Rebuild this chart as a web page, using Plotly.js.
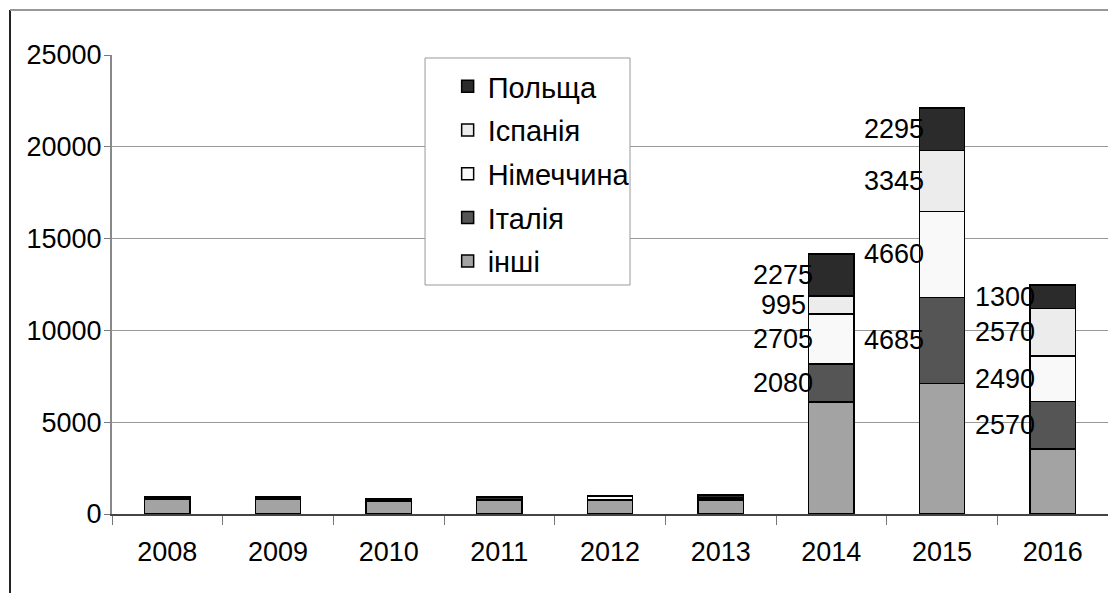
<!DOCTYPE html>
<html>
<head>
<meta charset="utf-8">
<script src="https://cdn.plot.ly/plotly-3.0.1.min.js"></script>
<style>html,body{margin:0;padding:0;background:#fff;overflow:hidden}</style>
</head>
<body>
<div id="chart" style="width:1108px;height:593px"></div>
<script>
const years = ['2008','2009','2010','2011','2012','2013','2014','2015','2016'];
const inshi   = [780, 780, 680, 770, 760, 760, 6100, 7120, 3550];
const italy   = [80, 80, 50, 0, 40, 60, 2080, 4685, 2570];
const germany = [0, 0, 0, 0, 180, 40, 2705, 4660, 2490];
const spain   = [0, 0, 0, 0, 0, 40, 995, 3345, 2570];
const poland  = [80, 80, 80, 150, 40, 130, 2275, 2295, 1300];
const labelYears = ['2014','2015','2016'];

const seriesNames = ['інші','Італія','Німеччина','Іспанія','Польща'];
const seriesData = [inshi, italy, germany, spain, poland];
const seriesColors = ['#a3a3a3','#555555','#f9f9f9','#ececec','#2b2b2b'];

const FONT = 'Liberation Sans, Arial, sans-serif';
const FS = 27;

const traces = seriesNames.map((n, i) => ({
  type: 'bar',
  name: n,
  x: years,
  y: seriesData[i],
  legendgroup: 'g' + i,
  legendrank: 100 - i,
  marker: {color: seriesColors[i], line: {color: '#000', width: 1.5}},
  hoverinfo: 'none'
}));

const annotations = [];
labelYears.forEach(yr => {
  const idx = years.indexOf(yr);
  let base = 0;
  seriesData.forEach((arr, si) => {
    const v = arr[idx];
    if (si > 0) {
      annotations.push({
        x: idx, y: base + v / 2, xref: 'x', yref: 'y',
        text: String(v), showarrow: false,
        xanchor: 'center', yanchor: 'middle', xshift: -48,
        font: {family: FONT, size: FS, color: '#000'}
      });
    }
    base += v;
  });
});

const layout = {
  width: 1108, height: 593,
  margin: {l: 112, r: 0, t: 55, b: 79},
  paper_bgcolor: '#fff', plot_bgcolor: '#fff',
  barmode: 'stack', bargap: 0.59,
  showlegend: true,
  legend: {
    x: 0.337, y: 0.987, xanchor: 'left', yanchor: 'top',
    traceorder: 'grouped', tracegroupgap: 3,
    bgcolor: 'rgba(0,0,0,0)', borderwidth: 0,
    font: {family: FONT, size: 29, color: '#000'},
    itemwidth: 30
  },
  xaxis: {
    type: 'category', range: [-0.5, 8.5],
    showgrid: false, showline: true, linecolor: '#444', linewidth: 1.5,
    ticks: 'outside', tickson: 'boundaries', ticklen: 9, tickcolor: '#777', tickwidth: 1,
    ticklabelstandoff: 13,
    tickfont: {family: FONT, size: FS, color: '#000'}
  },
  yaxis: {
    range: [0, 25000], dtick: 5000, tickformat: 'd',
    showgrid: true, gridcolor: '#999', gridwidth: 1,
    zeroline: false,
    showline: true, linecolor: '#888', linewidth: 2,
    ticks: 'outside', ticklen: 6, tickcolor: '#777',
    ticklabelstandoff: -3,
    tickfont: {family: FONT, size: FS, color: '#000'}
  },
  shapes: [
    {type: 'line', xref: 'paper', yref: 'paper', x0: -0.1024, x1: -0.1024, y0: 1.098, y1: -0.2, line: {color: '#222', width: 2}},
    {type: 'line', xref: 'paper', yref: 'paper', x0: -0.1024, x1: 1.01, y0: 1.098, y1: 1.098, line: {color: '#999', width: 2}},
    {type: 'rect', xref: 'paper', yref: 'paper', layer: 'above', x0: 0.3143, x1: 0.5201, y0: 0.4989, y1: 0.9935, fillcolor: '#fff', line: {color: '#999', width: 1}}
  ],
  annotations: annotations
};

Plotly.newPlot('chart', traces, layout, {displayModeBar: false, staticPlot: true});
</script>
</body>
</html>
